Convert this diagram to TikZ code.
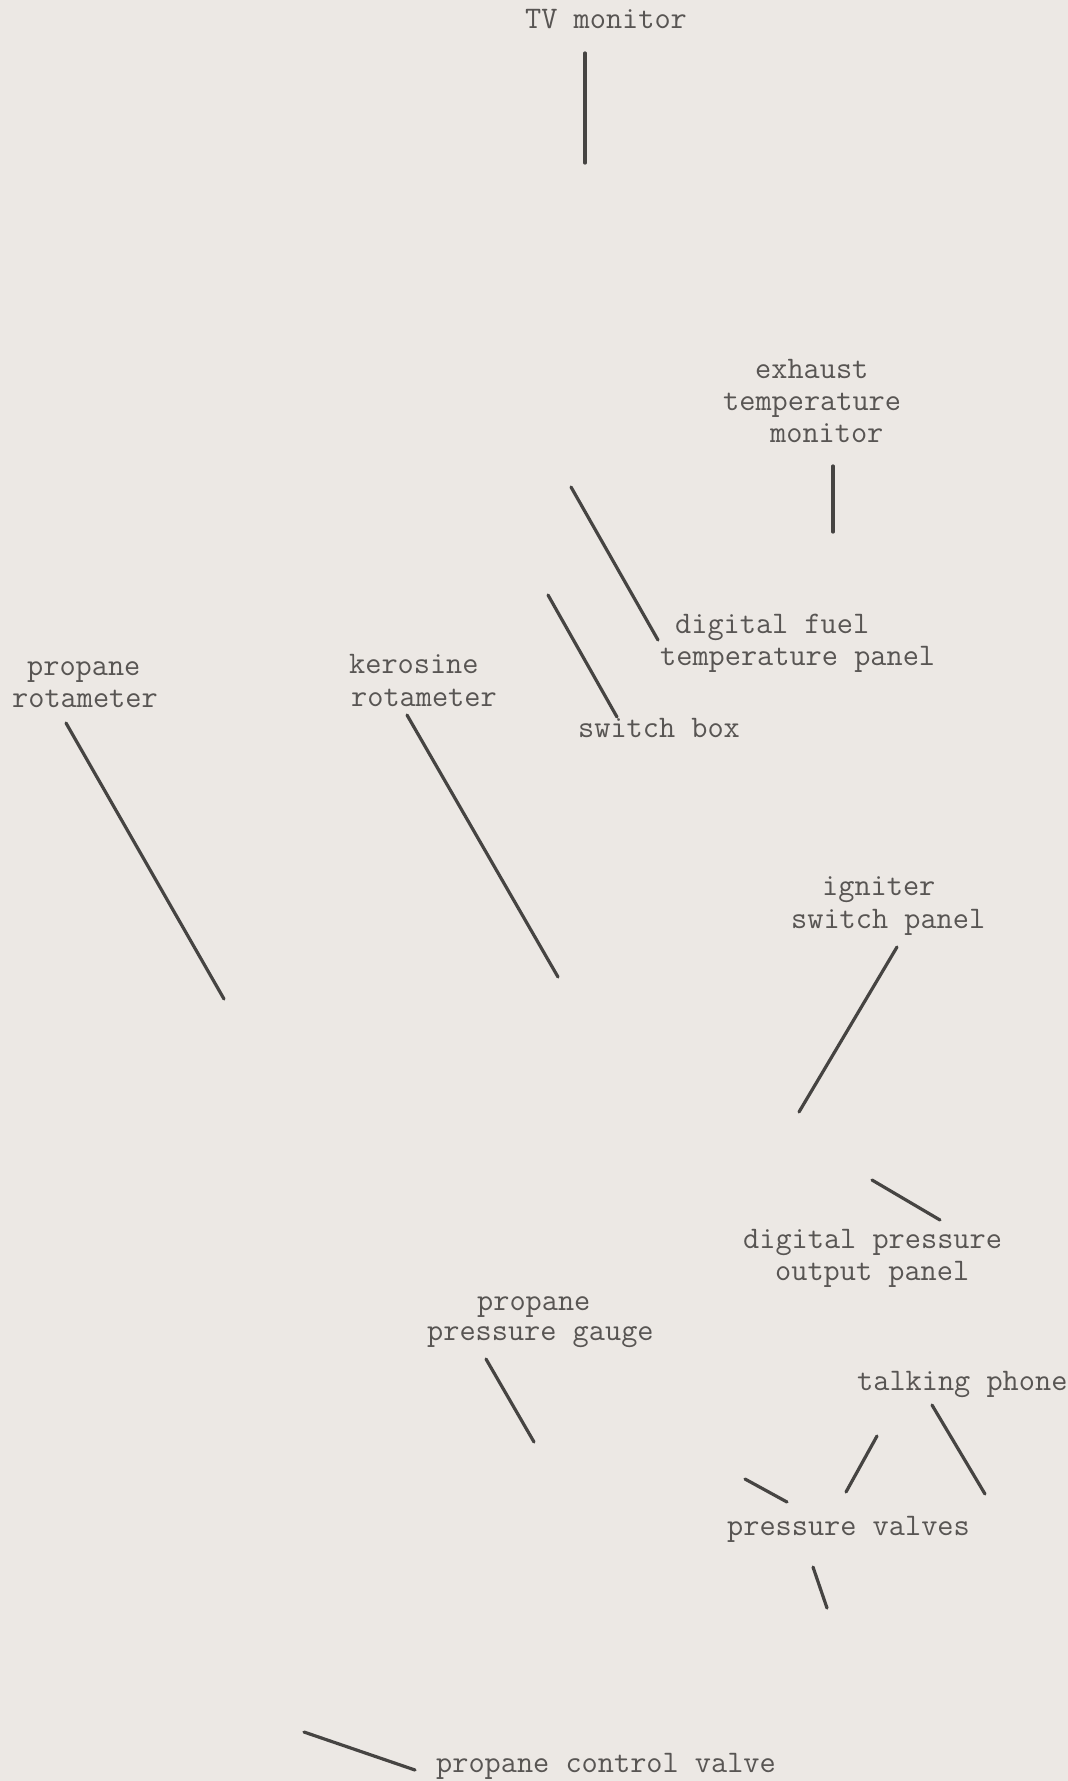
\documentclass[tikz,border=0pt]{standalone}
\definecolor{paper}{RGB}{236,232,228}
\definecolor{ink}{RGB}{88,85,83}
\definecolor{leadink}{RGB}{70,68,66}
\tikzset{
  lbl/.style={anchor=base west, inner sep=0pt, text=ink, font=\ttfamily\fontsize{31.4}{32}\selectfont},
  leader/.style={draw=leadink, line width=3.2pt, line cap=round}
}
\begin{document}
\begin{tikzpicture}[x=1pt,y=-1pt]
\fill[paper] (0,0) rectangle (1068,1781);
\useasboundingbox (0,0) rectangle (1068,1781);
% labels
\node[lbl] (tv) at (525,28) {TV monitor};
\node[lbl] (exh1) at (755,378) {exhaust};
\node[lbl] (exh2) at (723,410) {temperature};
\node[lbl] (exh3) at (770,442) {monitor};
\node[lbl] (dft1) at (675,633) {digital fuel};
\node[lbl] (dft2) at (660,665) {temperature panel};
\node[lbl] (sw) at (578,737) {switch box};
\node[lbl] (pr1) at (27,675) {propane};
\node[lbl] (pr2) at (12,707) {rotameter};
\node[lbl] (kr1) at (349,673) {kerosine};
\node[lbl] (kr2) at (351,706) {rotameter};
\node[lbl] (ig1) at (822,895) {igniter};
\node[lbl] (ig2) at (791,928) {switch panel};
\node[lbl] (dp1) at (743,1248) {digital pressure};
\node[lbl] (dp2) at (775,1280) {output panel};
\node[lbl] (pg1) at (477,1310) {propane};
\node[lbl] (pg2) at (427,1340) {pressure gauge};
\node[lbl] (tp) at (857,1390) {talking phone};
\node[lbl] (pv) at (727,1535) {pressure valves};
\node[lbl] (pcv) at (436,1772) {propane control valve};
% leader end points
\coordinate (a1) at (585,53);   \coordinate (b1) at (585,163);
\coordinate (a2) at (833,466);  \coordinate (b2) at (833,532);
\coordinate (a3) at (571,487);  \coordinate (b3) at (658,640);
\coordinate (a4) at (548,595);  \coordinate (b4) at (617,717);
\coordinate (a5) at (66,723);   \coordinate (b5) at (224,999);
\coordinate (a6) at (407,715);  \coordinate (b6) at (558,977);
\coordinate (a7) at (897,947);  \coordinate (b7) at (799,1112);
\coordinate (a8) at (872,1180); \coordinate (b8) at (940,1220);
\coordinate (a9) at (932,1405); \coordinate (b9) at (985,1494);
\coordinate (a10) at (877,1436); \coordinate (b10) at (846,1492);
\coordinate (a11) at (745,1479); \coordinate (b11) at (787,1502);
\coordinate (a12) at (813,1567); \coordinate (b12) at (827,1608);
\coordinate (a13) at (486,1359); \coordinate (b13) at (534,1442);
\coordinate (a14) at (304,1732); \coordinate (b14) at (415,1770);
% leaders
\draw[leader] (a1) -- (b1);
\draw[leader] (a2) -- (b2);
\draw[leader] (a3) -- (b3);
\draw[leader] (a4) -- (b4);
\draw[leader] (a5) -- (b5);
\draw[leader] (a6) -- (b6);
\draw[leader] (a7) -- (b7);
\draw[leader] (a8) -- (b8);
\draw[leader] (a9) -- (b9);
\draw[leader] (a10) -- (b10);
\draw[leader] (a11) -- (b11);
\draw[leader] (a12) -- (b12);
\draw[leader] (a13) -- (b13);
\draw[leader] (a14) -- (b14);
\end{tikzpicture}
\end{document}
